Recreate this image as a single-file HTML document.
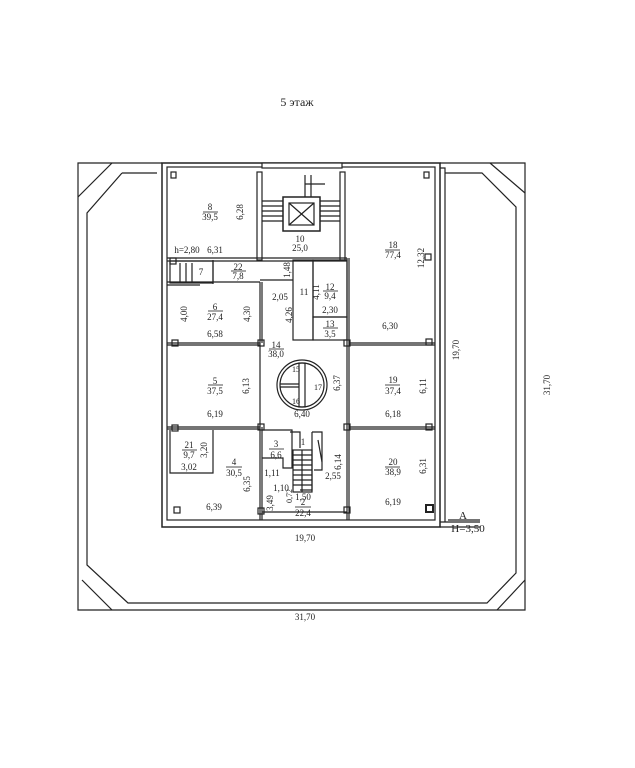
<!DOCTYPE html>
<html><head><meta charset="utf-8"><style>
html,body{margin:0;padding:0;background:#fff;}
svg{display:block;}
text{font-family:"Liberation Serif",serif;fill:#222;}
</style></head><body>
<svg width="635" height="768" viewBox="0 0 635 768" xmlns="http://www.w3.org/2000/svg">
<text x="297" y="106" font-size="12" text-anchor="middle">5 этаж</text>
<g stroke="#222" fill="none" stroke-width="1.2">
<!-- outer frame -->
<path d="M162 163 H78 V610 H525 V163 H440"/>
<path d="M112 163 L78 197"/>
<path d="M490 163 L525 193"/>
<path d="M82 580 L112 610"/>
<path d="M497 610 L525 580"/>
<!-- inner octagon -->
<path d="M122 173 L87 213 V565 L128 603 H487 L516 573 V207 L482 173 H445"/>
<path d="M122 173 H157"/>
<!-- building outer -->
<rect x="162" y="163" width="278" height="364" stroke-width="1.5"/>
<rect x="167" y="167" width="268" height="353"/>
<path d="M440 168 H445 V522 M440 527 H480"/>
<line x1="440" y1="522" x2="480" y2="522"/>
<!-- top stair opening -->
<rect x="262" y="163" width="80" height="5" fill="#fff"/>
<!-- columns -->
<rect x="257" y="172" width="5" height="88"/>
<rect x="340" y="172" width="5" height="88"/>
<!-- horizontal walls -->
<path d="M167 258 H347 M167 261 H347"/>
<path d="M167 282 H260 M167 285 H200"/>
<path d="M213 260 V284"/>
<rect x="170" y="261" width="43" height="22"/>
<path d="M180 263 V282 M186 263 V282 M192 263 V282"/>
<path d="M260 282 V343 M262 282 V343"/>
<path d="M260 280 H293"/>
<rect x="293" y="260" width="20" height="80"/>
<rect x="313" y="260" width="34" height="57"/>
<rect x="313" y="317" width="34" height="23"/>
<path d="M347 258 V520 M349 258 V520"/>
<path d="M167 343 H260 M167 345 H260"/>
<path d="M349 343 H435 M349 345 H435"/>
<path d="M167 427 H260 M167 429 H260"/>
<path d="M349 427 H435 M349 429 H435"/>
<path d="M260 343 V520 M262 427 V520"/>
<!-- room 21 -->
<path d="M170 430 V473 H213 V430"/>
<!-- room 3 L -->
<path d="M262 430 H292 V468 H283 V458 H262"/>
<path d="M290 432 H300 V448 M312 432 V490 H300"/>
<path d="M312 432 H322 V470 H314"/>
<path d="M318 440 L322 462"/>
<!-- stair 1 -->
<rect x="293" y="450" width="19" height="42"/>
<path d="M293 455 H312 M293 460 H312 M293 465 H312 M293 470 H312 M293 475 H312 M293 480 H312 M293 485 H312"/>
<line x1="302" y1="450" x2="302" y2="492"/>
<!-- bottom wall -->
<path d="M262 512 H347"/>
<!-- stair top -->
<rect x="283" y="197" width="37" height="34" stroke-width="1.5"/>
<rect x="289" y="203" width="25" height="22"/>
<path d="M289 203 L314 225 M314 203 L289 225"/>
<path d="M262 201 H283 M262 206 H283 M262 211 H283 M262 216 H283 M262 221 H283"/>
<path d="M320 201 H340 M320 206 H340 M320 211 H340 M320 216 H340 M320 221 H340"/>
<path d="M305 175 V197 M311 175 V197 M305 184 H325"/>
<!-- circle -->
<circle cx="302" cy="385" r="25"/>
<circle cx="302" cy="385" r="22"/>
<rect x="299" y="363" width="6" height="44"/>
<path d="M280 384 H299 M280 387 H299"/>
<!-- column squares -->
<g stroke-width="1.2">
<rect x="171" y="172" width="5" height="6"/><rect x="424" y="172" width="5" height="6"/>
<rect x="425" y="254" width="6" height="6"/><rect x="170" y="258" width="6" height="6"/>
<rect x="426" y="339" width="6" height="6"/><rect x="172" y="340" width="6" height="6"/>
<rect x="258" y="340" width="6" height="6"/><rect x="344" y="340" width="6" height="6"/>
<rect x="172" y="425" width="6" height="6"/><rect x="258" y="424" width="6" height="6"/>
<rect x="344" y="424" width="6" height="6"/><rect x="426" y="424" width="6" height="6"/>
<rect x="174" y="507" width="6" height="6"/><rect x="258" y="508" width="6" height="6"/>
<rect x="344" y="507" width="6" height="6"/><rect x="426" y="505" width="7" height="7" stroke-width="2"/>
</g>
<!-- H marker line -->
<path d="M448 520 H480"/>
</g>
<g font-size="9" text-anchor="middle">
<text x="210" y="210">8</text><line x1="203" y1="212" x2="218" y2="212" stroke="#222" stroke-width="0.8"/><text x="210" y="220">39,5</text>
<text x="243" y="212" transform="rotate(-90 243 212)">6,28</text>
<text x="187" y="253">h=2,80</text><text x="215" y="253">6,31</text>
<text x="300" y="242">10</text><text x="300" y="251">25,0</text>
<text x="393" y="248">18</text><line x1="385" y1="250" x2="400" y2="250" stroke="#222" stroke-width="0.8"/><text x="393" y="258">77,4</text>
<text x="424" y="258" transform="rotate(-90 424 258)">12,32</text>
<text x="201" y="275">7</text>
<text x="238" y="270">22</text><line x1="231" y1="271" x2="246" y2="271" stroke="#222" stroke-width="0.8"/><text x="238" y="279">7,8</text>
<text x="290" y="270" transform="rotate(-90 290 270)">1,48</text>
<text x="304" y="295">11</text>
<text x="330" y="290">12</text><line x1="323" y1="291" x2="338" y2="291" stroke="#222" stroke-width="0.8"/><text x="330" y="299">9,4</text>
<text x="319" y="292" transform="rotate(-90 319 292)">4,11</text>
<text x="330" y="313">2,30</text>
<text x="330" y="327">13</text><line x1="323" y1="328" x2="338" y2="328" stroke="#222" stroke-width="0.8"/><text x="330" y="337">3,5</text>
<text x="280" y="300">2,05</text>
<text x="292" y="315" transform="rotate(-90 292 315)">4,26</text>
<text x="187" y="314" transform="rotate(-90 187 314)">4,00</text>
<text x="215" y="310">6</text><line x1="208" y1="311" x2="223" y2="311" stroke="#222" stroke-width="0.8"/><text x="215" y="320">27,4</text>
<text x="250" y="314" transform="rotate(-90 250 314)">4,30</text>
<text x="215" y="337">6,58</text>
<text x="390" y="329">6,30</text>
<text x="276" y="348">14</text><line x1="269" y1="349" x2="284" y2="349" stroke="#222" stroke-width="0.8"/><text x="276" y="357">38,0</text>
<text x="215" y="384">5</text><line x1="208" y1="385" x2="223" y2="385" stroke="#222" stroke-width="0.8"/><text x="215" y="394">37,5</text>
<text x="249" y="386" transform="rotate(-90 249 386)">6,13</text>
<text x="215" y="417">6,19</text>
<text x="296" y="372" font-size="8">15</text><text x="296" y="404" font-size="8">16</text><text x="318" y="390" font-size="8">17</text>
<text x="340" y="383" transform="rotate(-90 340 383)">6,37</text>
<text x="302" y="417">6,40</text>
<text x="393" y="383">19</text><line x1="385" y1="385" x2="400" y2="385" stroke="#222" stroke-width="0.8"/><text x="393" y="394">37,4</text>
<text x="426" y="386" transform="rotate(-90 426 386)">6,11</text>
<text x="393" y="417">6,18</text>
<text x="189" y="448">21</text><line x1="182" y1="450" x2="197" y2="450" stroke="#222" stroke-width="0.8"/><text x="189" y="458">9,7</text>
<text x="207" y="450" transform="rotate(-90 207 450)">3,20</text>
<text x="189" y="470">3,02</text>
<text x="234" y="465">4</text><line x1="226" y1="467" x2="242" y2="467" stroke="#222" stroke-width="0.8"/><text x="234" y="476">30,5</text>
<text x="250" y="484" transform="rotate(-90 250 484)">6,35</text>
<text x="214" y="510">6,39</text>
<text x="276" y="447">3</text><line x1="269" y1="449" x2="284" y2="449" stroke="#222" stroke-width="0.8"/><text x="276" y="458">6,6</text>
<text x="303" y="445">1</text>
<text x="272" y="476">1,11</text>
<text x="281" y="491">1,10</text>
<text x="292" y="496" transform="rotate(-90 292 496)" font-size="8">0,72</text>
<text x="273" y="503" transform="rotate(-90 273 503)">3,49</text>
<text x="303" y="500">1,50</text>
<text x="303" y="505">2</text><line x1="295" y1="507" x2="311" y2="507" stroke="#222" stroke-width="0.8"/><text x="303" y="516">22,4</text>
<text x="333" y="479">2,55</text>
<text x="341" y="462" transform="rotate(-90 341 462)">6,14</text>
<text x="393" y="465">20</text><line x1="385" y1="467" x2="400" y2="467" stroke="#222" stroke-width="0.8"/><text x="393" y="475">38,9</text>
<text x="426" y="466" transform="rotate(-90 426 466)">6,31</text>
<text x="393" y="505">6,19</text>
<text x="305" y="541">19,70</text>
<text x="305" y="620">31,70</text>
<text x="459" y="350" transform="rotate(-90 459 350)">19,70</text>
<text x="550" y="385" transform="rotate(-90 550 385)">31,70</text>
</g>
<text x="463" y="519" font-size="11" text-anchor="middle">А</text>
<text x="468" y="532" font-size="11" text-anchor="middle">H=3,50</text>
</svg>
</body></html>
